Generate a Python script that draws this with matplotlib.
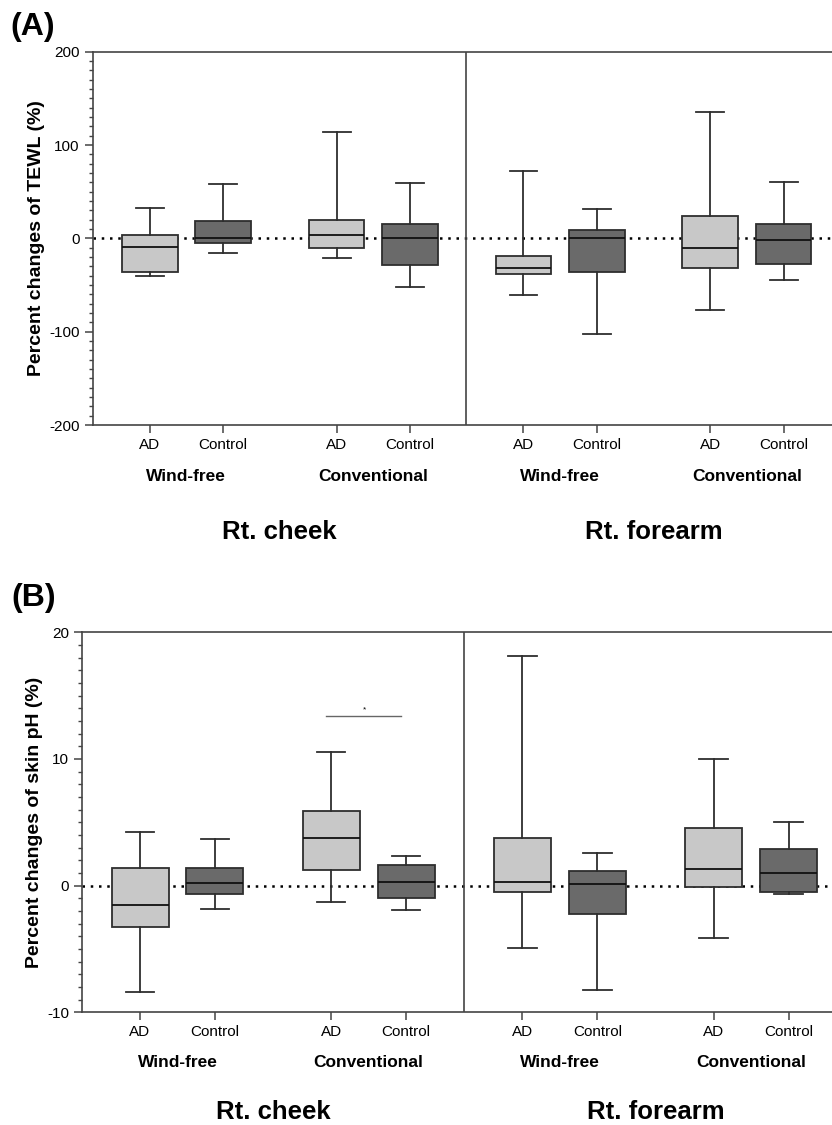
import numpy as np
import matplotlib.pyplot as plt
from matplotlib.ticker import MultipleLocator

plt.rcParams['font.family'] = ['Liberation Sans', 'DejaVu Sans']
plt.rcParams['axes.unicode_minus'] = False

# categorias del eje x
grupos = ['AD', 'Control', 'AD', 'Control', 'AD', 'Control', 'AD', 'Control']
condiciones = ['Wind-free', 'Conventional', 'Wind-free', 'Conventional']
sitios = ['Rt. cheek', 'Rt. forearm']

# (A) cambio porcentual de TEWL: bigote inf, Q1, mediana, Q3, bigote sup
tewl_lo = [-40.7, -15.7, -20.7, -52.5, -60.7, -102.9, -76.5, -45.0]
tewl_q1 = [-36.4, -4.6, -10.7, -28.2, -37.9, -36.1, -32.1, -27.5]
tewl_med = [-9.3, 0.0, 3.2, 0.0, -32.1, 0.0, -10.7, -2.1]
tewl_q3 = [3.9, 18.5, 19.3, 15.7, -19.0, 8.9, 23.6, 15.7]
tewl_hi = [32.1, 58.5, 114.3, 59.6, 72.1, 31.8, 135.3, 60.7]

# (B) cambio porcentual del pH de la piel
ph_lo = [-8.42, -1.84, -1.31, -1.95, -4.89, -8.26, -4.13, -0.68]
ph_q1 = [-3.26, -0.63, 1.21, -1.00, -0.47, -2.21, -0.08, -0.52]
ph_med = [-1.52, 0.21, 3.77, 0.32, 0.32, 0.11, 1.29, 0.98]
ph_q3 = [1.37, 1.42, 5.92, 1.63, 3.79, 1.16, 4.53, 2.87]
ph_hi = [4.24, 3.66, 10.58, 2.32, 18.13, 2.58, 10.00, 5.05]

# diferencia significativa en (B): AD vs Control, Conventional, Rt. cheek
sig_y = 13.37

pos = [1, 2, 3.55, 4.55, 6.1, 7.1, 8.65, 9.65]
colores = ['#c8c8c8', '#6a6a6a'] * 4
borde = '#2e2e2e'


def dibujar_panel(ax, lo, q1, med, q3, hi, ylim, mayor, menor, ylabel,
                  xlim, y_cond, y_sitio):
    stats = []
    for i in range(len(pos)):
        stats.append({'whislo': lo[i], 'q1': q1[i], 'med': med[i],
                      'q3': q3[i], 'whishi': hi[i], 'fliers': []})
    bp = ax.bxp(stats, positions=pos, widths=0.76, patch_artist=True,
                showfliers=False,
                boxprops=dict(edgecolor=borde, linewidth=1.3),
                whiskerprops=dict(color=borde, linewidth=1.3),
                capprops=dict(color=borde, linewidth=1.3),
                medianprops=dict(color='#111111', linewidth=1.3),
                capwidths=0.38, zorder=3)
    for caja, c in zip(bp['boxes'], colores):
        caja.set_facecolor(c)

    ax.axhline(0, color='black', linestyle=(0, (1, 2.3)), linewidth=1.8,
               zorder=1)
    ax.axvline(5.32, color='#444444', linewidth=1.2, zorder=2)

    ax.set_xlim(*xlim)
    ax.set_ylim(*ylim)
    ax.yaxis.set_major_locator(MultipleLocator(mayor))
    ax.yaxis.set_minor_locator(MultipleLocator(menor))
    ax.set_xticks(pos)
    ax.set_xticklabels(grupos)
    ax.tick_params(axis='both', which='major', length=5.5, width=1.1,
                   color='#444444', labelsize=11, pad=4)
    ax.tick_params(axis='y', which='minor', length=3, width=1.0,
                   color='#444444')
    ax.spines['right'].set_visible(False)
    for s in ['left', 'bottom', 'top']:
        ax.spines[s].set_color('#444444')
        ax.spines[s].set_linewidth(1.2)

    ax.set_ylabel(ylabel, fontsize=14, fontweight='bold', labelpad=3)

    tr = ax.get_xaxis_transform()
    for k, cond in enumerate(condiciones):
        xm = (pos[2 * k] + pos[2 * k + 1]) / 2
        ax.text(xm, y_cond, cond, transform=tr, ha='center', va='center',
                fontsize=12.5, fontweight='bold')
    for k, sitio in enumerate(sitios):
        xm = (pos[4 * k + 1] + pos[4 * k + 2]) / 2
        ax.text(xm, y_sitio, sitio, transform=tr, ha='center', va='center',
                fontsize=18.5, fontweight='bold')


fig = plt.figure(figsize=(8.32, 11.25), dpi=100)

ax1 = fig.add_axes([0.1114, 0.6222, 0.8886, 0.3318])
dibujar_panel(ax1, tewl_lo, tewl_q1, tewl_med, tewl_q3, tewl_hi,
              (-200, 200), 100, 10, 'Percent changes of TEWL (%)',
              (0.222, 10.31), -0.1385, -0.2858)

ax2 = fig.add_axes([0.0989, 0.1002, 0.9011, 0.3378])
dibujar_panel(ax2, ph_lo, ph_q1, ph_med, ph_q3, ph_hi,
              (-10, 20), 10, 1, 'Percent changes of skin pH (%)',
              (0.23, 10.23), -0.1326, -0.2616)

# linea de significancia
ax2.plot([pos[2] - 0.07, pos[3] - 0.07], [sig_y, sig_y], color='#666666',
         linewidth=1.0)
ax2.text((pos[2] + pos[3]) / 2 - 0.06, sig_y + 0.2, '*', ha='center',
         va='bottom', fontsize=6)

fig.text(10 / 832, 1 - 27 / 1125, '(A)', fontsize=23, fontweight='bold',
         ha='left', va='center')
fig.text(11 / 832, 1 - 598 / 1125, '(B)', fontsize=23, fontweight='bold',
         ha='left', va='center')

fig.savefig('out.png', dpi=100)
